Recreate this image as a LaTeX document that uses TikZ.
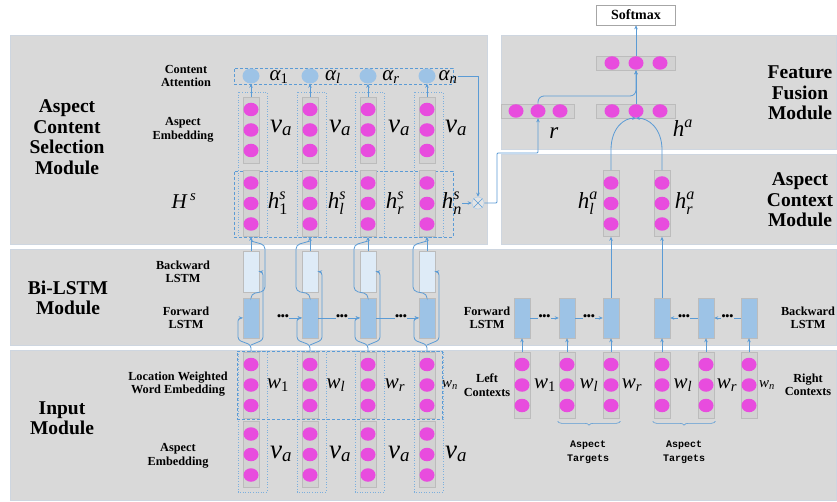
\documentclass[tikz,border=0pt]{standalone}
\usepackage{amsmath}
\usepackage{fontspec}
\setmainfont{Liberation Serif}
\newfontfamily\tgtfont{Liberation Mono}
\usetikzlibrary{arrows.meta,decorations.pathreplacing,shapes.geometric,calc}
\newcommand{\mi}[1]{\textit{#1}}
\newcommand{\mr}[1]{\textup{#1}}
\definecolor{panelgray}{RGB}{217,217,217}
\definecolor{paneledge}{RGB}{206,214,224}
\definecolor{lineblue}{RGB}{91,155,213}
\definecolor{dotpink}{RGB}{232,76,222}
\definecolor{fwdblue}{RGB}{157,195,230}
\definecolor{bwdblue}{RGB}{222,235,247}
\definecolor{vecgray}{RGB}{210,210,210}
\definecolor{vecedge}{RGB}{188,188,188}
\tikzset{
  panel/.style={fill=panelgray, draw=paneledge, line width=1pt},
  dotn/.style={ellipse, fill=dotpink, draw=none, minimum width=15pt, minimum height=13.5pt, inner sep=0pt},
  attn/.style={ellipse, fill=fwdblue, draw=none, minimum width=17pt, minimum height=15pt, inner sep=0pt},
  vvec/.style={rectangle, fill=vecgray, draw=vecedge, line width=0.6pt, minimum width=16pt, minimum height=66pt, inner sep=0pt},
  hvec/.style={rectangle, fill=vecgray, draw=vecedge, line width=0.6pt, minimum height=14pt, inner sep=0pt},
  fwdbox/.style={rectangle, fill=fwdblue, draw=vecedge, line width=0.4pt, minimum width=16pt, minimum height=40pt, inner sep=0pt},
  bwdbox/.style={rectangle, fill=bwdblue, draw=vecedge, line width=0.4pt, minimum width=16pt, minimum height=41pt, inner sep=0pt},
  softbox/.style={rectangle, fill=white, draw=black!35, line width=0.6pt, minimum width=79pt, minimum height=20pt, inner sep=0pt, font=\fontsize{14}{14}\selectfont\bfseries},
  modlabel/.style={font=\fontsize{19.5}{20.5}\selectfont\bfseries, align=center, inner sep=0pt},
  sublabel/.style={font=\fontsize{12.3}{13.5}\selectfont\bfseries, align=center, inner sep=0pt},
  tgtlabel/.style={font=\fontsize{10}{14}\selectfont\tgtfont\bfseries, align=center, inner sep=0pt},
  conn/.style={draw=lineblue, line width=0.8pt},
  arr/.style={conn, -{Stealth[length=4pt,width=3.5pt]}},
  dashbox/.style={rectangle, draw=lineblue, line width=0.7pt, dash pattern=on 3pt off 2pt, inner sep=0pt},
  dotbox/.style={draw=lineblue!80, line width=0.6pt, dash pattern=on 0.8pt off 1.8pt},
  mlab/.style={font=\fontsize{23}{23}\selectfont, inner sep=0pt},
  vlab/.style={font=\fontsize{27}{27}\selectfont, inner sep=0pt},
  slab/.style={font=\fontsize{21}{21}\selectfont, inner sep=0pt},
  tlab/.style={font=\fontsize{15}{15}\selectfont, inner sep=0pt},
  dotsn/.style={font=\fontsize{13}{13}\selectfont, inner sep=0pt, text=black},
  mulnode/.style={circle, draw=lineblue!50, fill=panelgray!70!white, line width=0.5pt, minimum size=12pt, inner sep=0pt},
}
\newcommand{\MyVvec}[3]{%
  \node[vvec] (#1) at (#2,#3) {};
  \node[dotn] (#1-a) at (#2,#3-20.5) {};
  \node[dotn] (#1-b) at (#2,#3) {};
  \node[dotn] (#1-c) at (#2,#3+20.5) {};
}
\newcommand{\MyHvec}[5]{%
  \node[hvec, minimum width=#4] (#1) at (#2,#3) {};
  \node[dotn] (#1-a) at (#2-#5,#3) {};
  \node[dotn] (#1-b) at (#2,#3) {};
  \node[dotn] (#1-c) at (#2+#5,#3) {};
}
\newcommand{\threedots}{\textbullet\kern-0.6pt\textbullet\kern-0.6pt\textbullet}
\begin{document}
\begin{tikzpicture}[x=1pt,y=-1pt]
\useasboundingbox (0,0) rectangle (837,502);
\fill[white] (0,0) rectangle (837,502);
% ---------- panels
\path[panel] (10,36) rectangle (487,245);
\path[panel] (501,36) rectangle (836,150);
\path[panel] (501,155) rectangle (836,245);
\path[panel] (10,250) rectangle (836,345);
\path[panel] (10,350) rectangle (836,500);

% ---------- module labels
\node[modlabel] (mACS) at (67,137) {Aspect\\Content\\Selection\\Module};
\node[modlabel] (mBL) at (68,298) {Bi-LSTM\\Module};
\node[modlabel] (mIN) at (62,418) {Input\\Module};
\node[modlabel] (mFF) at (800,93) {Feature\\Fusion\\Module};
\node[modlabel] (mAC) at (800,200) {Aspect\\Context\\Module};

% ---------- row labels
\node[sublabel] (lCA) at (186,76) {Content\\Attention};
\node[sublabel] (lAE1) at (183,130) {Aspect\\Embedding};
\node[slab] (lHs) at (184,201) {\mi{H}$^{\,\mi{s}}$};
\node[sublabel] (lBW) at (183,272) {Backward\\LSTM};
\node[sublabel] (lFW) at (186,318) {Forward\\LSTM};
\node[sublabel] (lLW) at (178,384) {Location Weighted\\Word Embedding};
\node[sublabel] (lAE2) at (178,456) {Aspect\\Embedding};
\node[sublabel] (rFW) at (487,318) {Forward\\LSTM};
\node[sublabel] (rBW) at (808,318) {Backward\\LSTM};
\node[sublabel] (rLC) at (487,385) {Left\\Contexts};
\node[sublabel] (rRC) at (808,385) {Right\\Contexts};

% ---------- dotted column boxes (left part)
\foreach \i/\X in {1/251,2/310,3/368,4/427}{
  \draw[dotbox] (\X-13,92) rectangle (\X+16,237);
  \draw[dotbox] (\X-13,351) rectangle (\X+16,492);
}
% ---------- dashed group boxes
\node[dashbox, minimum width=219pt, minimum height=16pt] (attbox) at (343.5,76) {};
\node[dashbox, minimum width=219pt, minimum height=66pt] (hsbox) at (343.5,204) {};
\node[dashbox, minimum width=205pt, minimum height=68pt] (wbox) at (339.5,385) {};

% ---------- left columns
\foreach \i/\X in {1/251,2/310,3/368,4/427}{
  \MyVvec{va\i}{\X}{130}
  \MyVvec{hs\i}{\X}{203.5}
  \MyVvec{w\i}{\X}{385}
  \MyVvec{ae\i}{\X}{454.5}
  \node[attn] (al\i) at (\X,76) {};
  \draw[arr] (va\i.north) -- (al\i.south);
  \node[bwdbox] (bw\i) at (\X,271.5) {};
  \node[fwdbox] (fw\i) at (\X,318) {};
  \draw[arr, rounded corners=3pt] (w\i.north) -- (\X,345) -- (\X-13,340) -- (\X-13,318) -- (fw\i.west);
  \draw[arr, rounded corners=3pt] (\X,345) -- (\X+12,340) -- (\X+12,272) -- (bw\i.east);
  \draw[arr] (bw\i.north) -- (hs\i.south);
}
\draw[conn, rounded corners=4pt] (fw1.north) -- (251,294) -- (265,291) -- (265,245) -- (251,241);
\foreach \i/\X in {2/310,3/368,4/427}{
  \draw[conn, rounded corners=4pt] (fw\i.north) -- (\X,294) -- (\X-14,291) -- (\X-14,245) -- (\X,241);
}
% forward chain dots
\node[dotsn] (ld1) at (283,318) {\threedots};
\node[dotsn] (ld2) at (342,318) {\threedots};
\node[dotsn] (ld3) at (401,318) {\threedots};
\draw[arr] (ld1.east) -- (fw2.west);
\draw[conn] (fw2.east) -- (ld2.west);
\draw[arr] (ld2.east) -- (fw3.west);
\draw[conn] (fw3.east) -- (ld3.west);
\draw[arr] (ld3.east) -- (fw4.west);

% ---------- left math labels
\node[slab] (a1) at (279,77) {$\mi{α}_{\mr{1}}$};
\node[slab] (a2) at (333,77) {$\mi{α}_{\mi{l}}$};
\node[slab] (a3) at (391,77) {$\mi{α}_{\mi{r}}$};
\node[slab] (a4) at (448,77) {$\mi{α}_{\mi{n}}$};
\foreach \i/\X in {1/281,2/340,3/399,4/456}{
  \node[vlab] (vl\i) at (\X,128) {$\mi{v}_{\mi{a}}$};
  \node[vlab] (ve\i) at (\X,454) {$\mi{v}_{\mi{a}}$};
}
\node[mlab] (hsl1) at (278,203) {$\mi{h}^{\mi{s}}_{\mr{1}}$};
\node[mlab] (hsl2) at (337,203) {$\mi{h}^{\mi{s}}_{\mi{l}}$};
\node[mlab] (hsl3) at (395,203) {$\mi{h}^{\mi{s}}_{\mi{r}}$};
\node[mlab] (hsl4) at (452,203) {$\mi{h}^{\mi{s}}_{\mi{n}}$};
\node[slab] (wl1) at (278,385) {$\mi{w}_{\mr{1}}$};
\node[slab] (wl2) at (336,385) {$\mi{w}_{\mi{l}}$};
\node[slab] (wl3) at (395,385) {$\mi{w}_{\mi{r}}$};
\node[tlab] (wl4) at (450,385) {$\mi{w}_{\mi{n}}$};

% ---------- multiplication
\node[mulnode] (mul) at (478,203) {};
\draw[lineblue, line width=0.6pt] (mul.45) -- (mul.225) (mul.135) -- (mul.315);
\draw[arr] (a4.east |- attbox.east) -| (mul.north);
\draw[arr] (hsl4.east) -- (mul.west);

% ---------- right side: input + LSTM
\foreach \i/\X in {1/522,2/567,3/611,4/662,5/706,6/749}{
  \MyVvec{ri\i}{\X}{385}
  \node[fwdbox] (rb\i) at (\X,318) {};
  \draw[arr] (ri\i.north) -- (rb\i.south);
}
\node[dotsn] (rd1) at (544.5,318) {\threedots};
\node[dotsn] (rd2) at (589,318) {\threedots};
\node[dotsn] (rd3) at (684,318) {\threedots};
\node[dotsn] (rd4) at (727.5,318) {\threedots};
\draw[conn] (rb1.east) -- (rd1.west);
\draw[arr] (rd1.east) -- (rb2.west);
\draw[conn] (rb2.east) -- (rd2.west);
\draw[arr] (rd2.east) -- (rb3.west);
\draw[conn] (rb6.west) -- (rd4.east);
\draw[arr] (rd4.west) -- (rb5.east);
\draw[conn] (rb5.west) -- (rd3.east);
\draw[arr] (rd3.west) -- (rb4.east);
\node[slab] (rw1) at (545,385) {$\mi{w}_{\mr{1}}$};
\node[slab] (rw2) at (589,385) {$\mi{w}_{\mi{l}}$};
\node[slab] (rw3) at (632,385) {$\mi{w}_{\mi{r}}$};
\node[slab] (rw4) at (683,385) {$\mi{w}_{\mi{l}}$};
\node[slab] (rw5) at (727,385) {$\mi{w}_{\mi{r}}$};
\node[tlab] (rw6) at (767,385) {$\mi{w}_{\mi{n}}$};
% braces
\draw[conn, line width=0.6pt, decorate, decoration={brace, mirror, amplitude=4pt}] ($(ri2.south west)+(-1,3)$) -- ($(ri3.south east)+(1,3)$);
\draw[conn, line width=0.6pt, decorate, decoration={brace, mirror, amplitude=4pt}] ($(ri4.south west)+(-1,3)$) -- ($(ri5.south east)+(1,3)$);
\node[tgtlabel] (tg1) at (588,452) {Aspect\\Targets};
\node[tgtlabel] (tg2) at (684,452) {Aspect\\Targets};

% ---------- aspect context
\MyVvec{hal}{611}{203.5}
\MyVvec{har}{662}{203.5}
\draw[arr] (rb3.north) -- (hal.south);
\draw[arr] (rb4.north) -- (har.south);
\node[mlab] (hall) at (588,203) {$\mi{h}^{\mi{a}}_{\mi{l}}$};
\node[mlab] (harl) at (685,203) {$\mi{h}^{\mi{a}}_{\mi{r}}$};

% ---------- feature fusion
\MyHvec{rvec}{538}{111}{73pt}{22}
\MyHvec{havec}{636}{111}{79pt}{24}
\MyHvec{topvec}{636}{63}{79pt}{24}
\node[softbox] (soft) at (636,15) {Softmax};
\node[mlab] (rl) at (554,133) {\mi{r}};
\node[mlab] (hal2) at (683,128) {$\mi{h}^{\mi{a}}$};
\draw[arr] (topvec.north) -- (soft.south);
\draw[arr] (havec.north) -- (topvec.south);
\draw[arr] (hal.north) -- (611,150) .. controls (611,128) and (624,118) .. (havec.south);
\draw[arr] (har.north) -- (662,150) .. controls (662,128) and (648,118) .. (havec.south);
\draw[arr, rounded corners=6pt] (rvec.north) -- (538,96) -- (636,96) -- (topvec.south);
\draw[arr, rounded corners=1pt] (mul.east) -- (497,203) -- (497,153) -- (538,153) -- (rvec.south);
\end{tikzpicture}
\end{document}
